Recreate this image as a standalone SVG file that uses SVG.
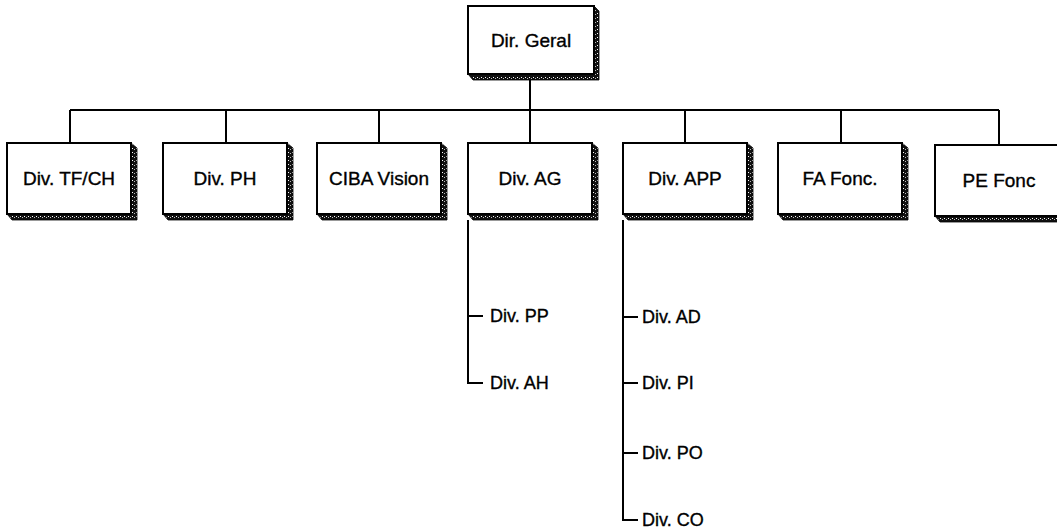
<svg xmlns="http://www.w3.org/2000/svg" width="1057" height="530" viewBox="0 0 1057 530">
  <style>
    .box { fill: #fff; stroke: #000; stroke-width: 2; }
    .shadow { fill: url(#speckle); stroke: #000; stroke-width: 0.8; }
    .lbl { font-family: "Liberation Sans", Arial, sans-serif; font-size: 19px; fill: #000; text-anchor: middle; stroke: #000; stroke-width: 0.35; }
    .sub { font-family: "Liberation Sans", Arial, sans-serif; font-size: 18px; fill: #000; stroke: #000; stroke-width: 0.35; }
    .conn { fill: none; stroke: #000; stroke-width: 2; }
  </style>
  <defs>
    <pattern id="speckle" width="4" height="4" patternUnits="userSpaceOnUse">
      <rect width="4" height="4" fill="#111"/>
      <rect x="1" y="1" width="1" height="1" fill="#fff"/>
      <rect x="3" y="2" width="1" height="1" fill="#bbb"/>
    </pattern>
    <g id="shadowShape">
      <polygon class="shadow" points="124,0 130,5 130,77 5,77 0,71 124,71"/>
    </g>
  </defs>

  <g id="connectors">
    <line class="conn" x1="530" y1="80" x2="530" y2="110"/>
    <line class="conn" x1="70" y1="110" x2="999" y2="110"/>
    <line class="conn" x1="70" y1="110" x2="70" y2="143"/>
    <line class="conn" x1="226" y1="110" x2="226" y2="143"/>
    <line class="conn" x1="379" y1="110" x2="379" y2="143"/>
    <line class="conn" x1="530" y1="110" x2="530" y2="143"/>
    <line class="conn" x1="685" y1="110" x2="685" y2="143"/>
    <line class="conn" x1="841" y1="110" x2="841" y2="143"/>
    <line class="conn" x1="999" y1="110" x2="999" y2="145"/>
    <!-- Div. AG sub-tree -->
    <path class="conn" d="M468,220 V383 H483"/>
    <line class="conn" x1="468" y1="316" x2="483" y2="316"/>
    <!-- Div. APP sub-tree -->
    <path class="conn" d="M623,220 V520 H638"/>
    <line class="conn" x1="623" y1="317" x2="638" y2="317"/>
    <line class="conn" x1="623" y1="383" x2="638" y2="383"/>
    <line class="conn" x1="623" y1="453" x2="638" y2="453"/>
  </g>

  <g id="dir-geral">
    <polygon class="shadow" points="594,6 599,11 599,80 473,80 468,74 594,74"/>
    <rect class="box" x="468" y="6" width="126" height="68"/>
    <text class="lbl" x="531" y="47">Dir. Geral</text>
  </g>

  <g id="div-tfch">
    <use href="#shadowShape" x="7" y="143"/>
    <rect class="box" x="7" y="143" width="124" height="71"/>
    <text class="lbl" x="69" y="185">Div. TF/CH</text>
  </g>
  <g id="div-ph">
    <use href="#shadowShape" x="163" y="143"/>
    <rect class="box" x="163" y="143" width="124" height="71"/>
    <text class="lbl" x="225" y="185">Div. PH</text>
  </g>
  <g id="ciba-vision">
    <use href="#shadowShape" x="317" y="143"/>
    <rect class="box" x="317" y="143" width="124" height="71"/>
    <text class="lbl" x="379" y="185">CIBA Vision</text>
  </g>
  <g id="div-ag">
    <use href="#shadowShape" x="468" y="143"/>
    <rect class="box" x="468" y="143" width="124" height="71"/>
    <text class="lbl" x="530" y="185">Div. AG</text>
  </g>
  <g id="div-app">
    <use href="#shadowShape" x="623" y="143"/>
    <rect class="box" x="623" y="143" width="124" height="71"/>
    <text class="lbl" x="685" y="185">Div. APP</text>
  </g>
  <g id="fa-fonc">
    <use href="#shadowShape" x="778" y="143"/>
    <rect class="box" x="778" y="143" width="124" height="71"/>
    <text class="lbl" x="840" y="185">FA Fonc.</text>
  </g>
  <g id="pe-fonc">
    <use href="#shadowShape" x="935" y="145"/>
    <rect class="box" x="935" y="145" width="124" height="71"/>
    <text class="lbl" x="999" y="187">PE Fonc</text>
  </g>

  <g id="div-pp"><text class="sub" x="490" y="322">Div. PP</text></g>
  <g id="div-ah"><text class="sub" x="490" y="389">Div. AH</text></g>
  <g id="div-ad"><text class="sub" x="642" y="323">Div. AD</text></g>
  <g id="div-pi"><text class="sub" x="642" y="389">Div. PI</text></g>
  <g id="div-po"><text class="sub" x="642" y="459">Div. PO</text></g>
  <g id="div-co"><text class="sub" x="642" y="526">Div. CO</text></g>
</svg>
